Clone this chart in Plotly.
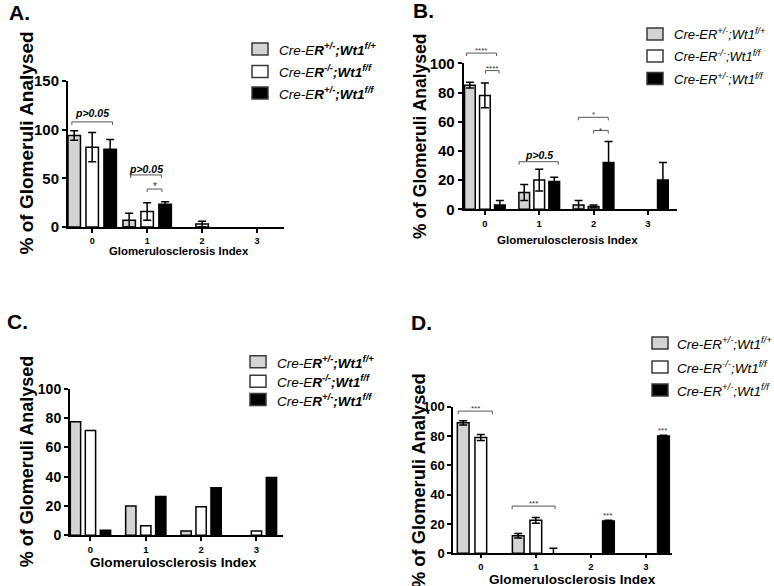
import plotly.graph_objects as go

W, H = 774, 586
FONT = "Liberation Sans, Arial, sans-serif"

# ---------------- data ----------------
categories = [0, 1, 2, 3]
tick_labels = ["0", "1", "2", "3"]

names_bold = [
    "<i>Cre-E<b>R<sup>+/-</sup>;Wt1<sup>f/+</sup></b></i>",
    "<i>Cre-E<b>R<sup>-/-</sup>;Wt1<sup>f/f</sup></b></i>",
    "<i>Cre-E<b>R<sup>+/-</sup>;Wt1<sup>f/f</sup></b></i>",
]
names_plain = [
    "<i>Cre-ER<sup>+/-</sup>;Wt1<sup>f/+</sup></i>",
    "<i>Cre-ER<sup>-/-</sup>;Wt1<sup>f/f</sup></i>",
    "<i>Cre-ER<sup>+/-</sup>;Wt1<sup>f/f</sup></i>",
]

# Panel A
a_het_wt = [94, 7, 0, 0]
a_het_wt_err = [5, 7, None, None]
a_ko_fl = [82, 16, 3, 0]
a_ko_fl_err = [15, 9, 3, None]
a_het_fl = [80, 23.5, 0, 0]
a_het_fl_err = [10, 2.5, None, None]
a_brackets = [(-0.37, 0.37, 108), (0.70, 1.26, 53.5), (1.0, 1.27, 39)]
a_bracket_labels = ["<b><i>p>0.05</i></b>", "<b><i>p>0.05</i></b>", "*"]
a_label_y = [117.5, 60, 44]

# Panel B
b_het_wt = [85, 11.5, 3, 0]
b_het_wt_err = [2, 5.5, 3, None]
b_ko_fl = [78, 20, 2, 0]
b_ko_fl_err = [8.5, 7.5, 1, None]
b_het_fl = [3, 19, 32, 20]
b_het_fl_err = [3, 3, 14.5, 12]
b_brackets = [(-0.34, 0.215, 107), (0.01, 0.26, 95), (0.63, 1.35, 32.6),
              (1.72, 2.27, 63), (2.0, 2.27, 54)]
b_bracket_labels = ["****", "****", "<b><i>p>0.5</i></b>", "*", "*"]
b_label_y = [110, 98, 37, 66.5, 55.5]

# Panel C
c_het_wt = [77.5, 20, 3, 0]
c_ko_fl = [71.5, 6.5, 19.5, 3]
c_het_fl = [3.5, 26.5, 32.5, 39.5]

# Panel D
d_het_wt = [89, 12, 0, 0]
d_het_wt_err = [1.5, 1.5, None, None]
d_ko_fl = [79, 22.5, 0, 0]
d_ko_fl_err = [2, 2, None, None]
d_het_fl = [0, 0, 22, 80]
d_het_fl_err = [None, 3.5, 0.5, 0.5]
d_brackets = [(-0.41, 0.21, 97), (0.57, 1.35, 32.2)]
d_bracket_labels = ["***", "***"]
d_label_y = [100, 35]
d_star_x = [2.31, 3.31]
d_star_y = [27, 85]

# ---------------- styling ----------------
FILLS = ["#d4d4d4", "#ffffff", "#000000"]

panels = [
    dict(key="", px=(68, 284), py=(81, 227), xr=[-0.44, 3.49], yr=[0, 150],
         yt=[0, 50, 100, 150], slot=0.327, bw=0.227, ytf=15, xtf=9, xtl=4,
         series=[(a_het_wt, a_het_wt_err), (a_ko_fl, a_ko_fl_err), (a_het_fl, a_het_fl_err)],
         names=names_bold,
         legend=dict(bx=252, tx=277, rows=[49, 71.5, 93], fs=13.5)),
    dict(key="2", px=(463.7, 676.7), py=(63.3, 209.3), xr=[-0.39, 3.53], yr=[0, 100],
         yt=[0, 20, 40, 60, 80, 100], slot=0.276, bw=0.197, ytf=15, xtf=9.5, xtl=4,
         series=[(b_het_wt, b_het_wt_err), (b_ko_fl, b_ko_fl_err), (b_het_fl, b_het_fl_err)],
         names=names_plain,
         legend=dict(bx=647, tx=672, rows=[34, 56, 78.5], fs=13)),
    dict(key="3", px=(70, 283), py=(388.7, 535.3), xr=[-0.37, 3.48], yr=[0, 100],
         yt=[0, 20, 40, 60, 80, 100], slot=0.271, bw=0.186, ytf=14, xtf=9.5, xtl=4,
         series=[(c_het_wt, None), (c_ko_fl, None), (c_het_fl, None)],
         names=names_bold,
         legend=dict(bx=250, tx=275, rows=[361.7, 381.3, 399.5], fs=13.5)),
    dict(key="4", px=(453.3, 671.7), py=(406.7, 553.3), xr=[-0.5, 3.47], yr=[0, 100],
         yt=[0, 20, 40, 60, 80, 100], slot=0.32, bw=0.213, ytf=13, xtf=9.5, xtl=3,
         series=[(d_het_wt, d_het_wt_err), (d_ko_fl, d_ko_fl_err), (d_het_fl, d_het_fl_err)],
         names=names_plain,
         legend=dict(bx=652, tx=675, rows=[343, 367, 390], fs=13.5)),
]

fig = go.Figure()
layout = dict(width=W, height=H, margin=dict(l=0, r=0, t=0, b=0, autoexpand=False),
              paper_bgcolor="white", plot_bgcolor="white", barmode="group",
              font=dict(family=FONT, color="black"), showlegend=False)
shapes, annos = [], []

for p in panels:
    k = p["key"]
    xa, ya = "x" + k, "y" + k
    for i, ((vals, err), name) in enumerate(zip(p["series"], p["names"])):
        errs = err if err is not None else [None] * len(vals)
        # an empty category (0 with no error bar) draws nothing
        yplot = [v if (v != 0 or e is not None) else None for v, e in zip(vals, errs)]
        lw = [1.5 if v else 0 for v in vals]
        tr = dict(x=categories, y=yplot, name=name, xaxis=xa, yaxis=ya,
                  width=p["bw"], offset=(i - 1) * p["slot"] - p["bw"] / 2,
                  marker=dict(color=FILLS[i], line=dict(color="black", width=lw)),
                  hoverinfo="x+y")
        if err is not None:
            tr["error_y"] = dict(type="data", array=[e if e is not None else 0 for e in err],
                                 visible=True, color="black", thickness=1.5, width=4)
        fig.add_trace(go.Bar(**tr))
    layout["xaxis" + k] = dict(domain=[p["px"][0] / W, p["px"][1] / W], anchor=ya,
                               range=p["xr"], tickvals=categories, ticktext=tick_labels,
                               showline=True, linewidth=2, linecolor="black",
                               ticks="outside", ticklen=p["xtl"], tickwidth=2, tickcolor="black",
                               tickfont=dict(size=p["xtf"], weight="bold", family=FONT),
                               showgrid=False, zeroline=False, fixedrange=True, automargin=False)
    layout["yaxis" + k] = dict(domain=[1 - p["py"][1] / H, 1 - p["py"][0] / H], anchor=xa,
                               range=p["yr"], tickvals=p["yt"],
                               showline=True, linewidth=2, linecolor="black",
                               ticks="outside", ticklen=4, tickwidth=2, tickcolor="black",
                               tickfont=dict(size=p["ytf"], weight="bold", family=FONT),
                               showgrid=False, zeroline=False, fixedrange=True, automargin=False)
    # legend drawn as boxes + text
    lg = p["legend"]
    for i, (row, name) in enumerate(zip(lg["rows"], p["names"])):
        shapes.append(dict(type="rect", xref="paper", yref="paper",
                           x0=lg["bx"] / W, x1=(lg["bx"] + 16) / W,
                           y0=1 - (row + 6) / H, y1=1 - (row - 6) / H,
                           fillcolor=FILLS[i], line=dict(color="#3a3a3a", width=1.5)))
        annos.append(dict(xref="paper", yref="paper", x=lg["tx"] / W, y=1 - row / H,
                          text=name, showarrow=False, xanchor="left", yanchor="middle",
                          font=dict(size=lg["fs"], family=FONT, color="black")))


def xd(v, r):
    return (v - r[0]) / (r[1] - r[0])


def add_brackets(p, brackets, labels, label_y, fsize_text, fsize_star):
    k = p["key"]
    xref, yref = "x" + k + " domain", "y" + k + " domain"
    leg = 3.0 / (p["py"][1] - p["py"][0])
    for (x0, x1, yv), lab, ly in zip(brackets, labels, label_y):
        X0, X1, Y = xd(x0, p["xr"]), xd(x1, p["xr"]), xd(yv, p["yr"])
        ln = dict(color="#555555", width=1)
        shapes.append(dict(type="line", xref=xref, yref=yref, x0=X0, x1=X1, y0=Y, y1=Y, line=ln))
        shapes.append(dict(type="line", xref=xref, yref=yref, x0=X0, x1=X0, y0=Y, y1=Y - leg, line=ln))
        shapes.append(dict(type="line", xref=xref, yref=yref, x0=X1, x1=X1, y0=Y, y1=Y - leg, line=ln))
        star = "*" in lab
        annos.append(dict(xref=xref, yref=yref, x=(X0 + X1) / 2, y=xd(ly, p["yr"]),
                          text=lab, showarrow=False, xanchor="center", yanchor="middle",
                          yshift=-2 if star else 0,
                          font=dict(size=fsize_star if star else fsize_text,
                                    color="#333333" if star else "black", family=FONT)))


add_brackets(panels[0], a_brackets, a_bracket_labels, a_label_y, 10.5, 10)
add_brackets(panels[1], b_brackets, b_bracket_labels, b_label_y, 10.5, 8)
add_brackets(panels[3], d_brackets, d_bracket_labels, d_label_y, 10.5, 8)
for sx, sy in zip(d_star_x, d_star_y):
    p = panels[3]
    annos.append(dict(xref="x4 domain", yref="y4 domain", x=xd(sx, p["xr"]), y=xd(sy, p["yr"]),
                      text="***", showarrow=False, xanchor="center", yanchor="middle",
                      yshift=-2, font=dict(size=8, color="#333333", family=FONT)))

# panel letters
for txt, cx, cy in [("A.", 19, 13), ("B.", 423, 11), ("C.", 17, 321), ("D.", 421, 322)]:
    annos.append(dict(xref="paper", yref="paper", x=cx / W, y=1 - cy / H, text="<b>" + txt + "</b>",
                      showarrow=False, xanchor="center", yanchor="middle",
                      font=dict(size=21, family=FONT, color="black")))

# axis titles
for cx, cy, fs in [(26, 143.5, 19), (420, 136, 17.5), (26.7, 461.5, 18), (418, 481, 18.3)]:
    annos.append(dict(xref="paper", yref="paper", x=cx / W, y=1 - cy / H,
                      text="<b>% of Glomeruli Analysed</b>", textangle=-90, showarrow=False,
                      xanchor="center", yanchor="middle", font=dict(size=fs, family=FONT, color="black")))
for cx, cy, fs in [(179, 251, 11.4), (567, 239.5, 11.5), (173, 562, 13.6), (572, 579, 13.6)]:
    annos.append(dict(xref="paper", yref="paper", x=cx / W, y=1 - cy / H,
                      text="<b>Glomerulosclerosis Index</b>", showarrow=False,
                      xanchor="center", yanchor="middle", font=dict(size=fs, family=FONT, color="black")))

layout["shapes"] = shapes
layout["annotations"] = annos
fig.update_layout(**layout)
fig.write_html("out.html", config={"displayModeBar": False},
               post_script="document.body.style.margin='0px';document.body.style.overflow='hidden';")
